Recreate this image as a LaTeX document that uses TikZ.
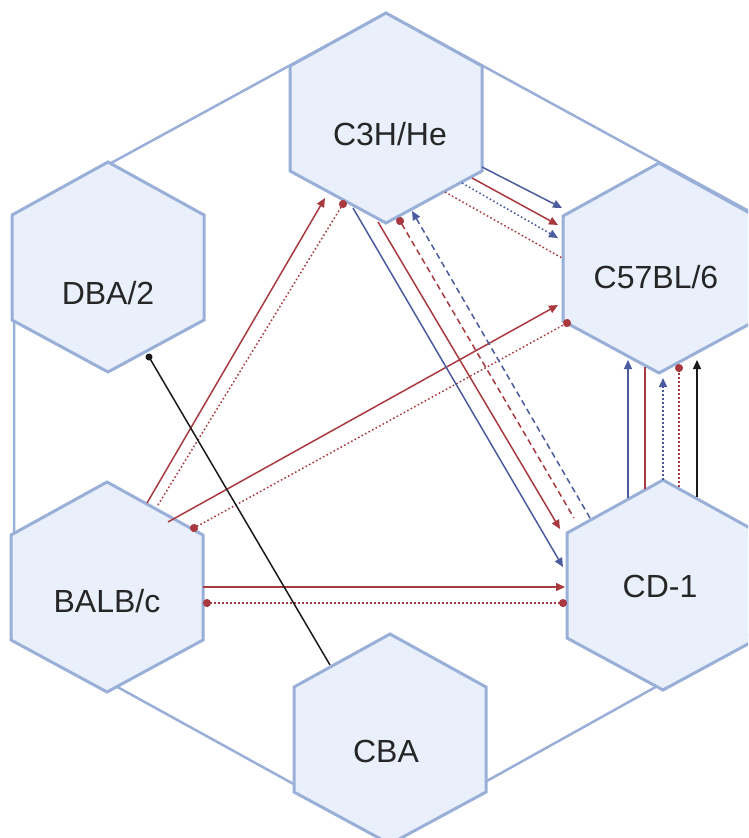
\documentclass[tikz,border=0pt]{standalone}
\usepackage{fontspec}
\setmainfont{Liberation Sans}
\usetikzlibrary{arrows.meta,calc}

\definecolor{hexfill}{HTML}{E9F0FB}
\definecolor{hexline}{HTML}{9AAFD8}
\definecolor{linkred}{HTML}{A83A3F}
\definecolor{linkblue}{HTML}{4A5C9E}
\definecolor{linkblack}{HTML}{1A1A1A}
\definecolor{labelgrey}{HTML}{262626}

% pointy-top hexagon around a named centre
\newcommand\hexagonat[1]{%
  \path[hexa] ($(#1)+(0,-105)$) -- ++(96,53) -- ++(0,105) -- ++(-96,52)
    -- ++(-96,-52) -- ++(0,-105) -- cycle;}

\begin{document}
\begin{tikzpicture}[x=1pt,y=-1pt,
  hexa/.style={draw=hexline, fill=hexfill, line width=3pt, line join=miter},
  frame/.style={draw=hexline, line width=2.5pt, line join=miter},
  strain/.style={font=\fontsize{32}{38}\selectfont, text=labelgrey, anchor=base, inner sep=0pt},
  link/.style={line width=1.5pt},
  rd/.style={link, draw=linkred},
  bl/.style={link, draw=linkblue},
  bk/.style={link, draw=linkblack},
  dotline/.style={dash pattern=on 1.6pt off 2.4pt},
  dashline/.style={dash pattern=on 6pt off 4pt},
  tip/.style={-{Triangle[length=9pt,width=8pt]}},
  dotend/.style={-{Circle[length=8pt]}, shorten >=-4pt},
  dotstart/.style={{Circle[length=8pt]}-, shorten <=-4pt},
  dotboth/.style={{Circle[length=8pt]}-{Circle[length=8pt]}, shorten <=-4pt, shorten >=-4pt},
]
\useasboundingbox (0,0) rectangle (748,838);
\clip (0,0) rectangle (748,838);

% hexagon centres
\coordinate (c3h)  at (386,118);
\coordinate (dba)  at (108,267);
\coordinate (c57)  at (659,268);
\coordinate (balb) at (107,587);
\coordinate (cd1)  at (663,585);
\coordinate (cba)  at (390,739);

% outer frame
\draw[frame] (386,13) -- (758,216) -- (758,630) -- (388,836) -- (14,630) -- (14,216) -- cycle;

% strain hexagons
\hexagonat{c3h}
\hexagonat{dba}
\hexagonat{c57}
\hexagonat{balb}
\hexagonat{cd1}
\hexagonat{cba}

% labels
\node[strain] (c3h-label)  at (390,145) {C3H/He};
\node[strain] (dba-label)  at (108,304) {DBA/2};
\node[strain] (c57-label)  at (656,288) {C57BL/6};
\node[strain] (balb-label) at (107,612) {BALB/c};
\node[strain] (cd1-label)  at (660,597) {CD-1};
\node[strain] (cba-label)  at (386,762) {CBA};

% BALB/c -> C3H/He
\draw[rd,tip] ($(balb)+(40,-84)$) -- ($(c3h)+(-61,80)$);
\draw[rd,dotline,dotend] ($(balb)+(51,-82)$) -- ($(c3h)+(-43,86)$);

% BALB/c -> C57BL/6
\draw[rd,tip] ($(balb)+(61,-65)$) -- ($(c57)+(-101,37)$);
\draw[rd,dotline,dotboth] ($(balb)+(87,-59)$) -- ($(c57)+(-92,55)$);

% BALB/c -> CD-1
\draw[rd,tip] ($(balb)+(96,0)$) -- ($(cd1)+(-98,2)$);
\draw[rd,dotline,dotboth] ($(balb)+(100,16)$) -- ($(cd1)+(-100,18)$);

% C3H/He -> C57BL/6
\draw[bl,tip] ($(c3h)+(96,49)$) -- ($(c57)+(-97,-60)$);
\draw[rd,tip] ($(c3h)+(86,60)$) -- ($(c57)+(-101,-43)$);
\draw[bl,dotline,tip] ($(c3h)+(76,65)$) -- ($(c57)+(-101,-30)$);
\draw[rd,dotline] ($(c3h)+(59,74)$) -- ($(c57)+(-97,-10)$);

% C3H/He <-> CD-1
\draw[bl,tip] ($(c3h)+(-33,90)$) -- ($(cd1)+(-100,-18)$);
\draw[rd,tip] ($(c3h)+(-8,104)$) -- ($(cd1)+(-103,-56)$);
\draw[rd,dashline,dotstart] ($(c3h)+(14,103)$) -- ($(cd1)+(-89,-67)$);
\draw[bl,dashline,tip] ($(cd1)+(-73,-67)$) -- ($(c3h)+(26,93)$);

% CD-1 -> C57BL/6
\draw[bl,tip] ($(cd1)+(-35,-87)$) -- ($(c57)+(-31,92)$);
\draw[rd] ($(cd1)+(-18,-96)$) -- ($(c57)+(-14,99)$);
\draw[bl,dotline,tip] ($(cd1)+(0,-105)$) -- ($(c57)+(4,110)$);
\draw[rd,dotline,dotend] ($(cd1)+(16,-98)$) -- ($(c57)+(20,100)$);
\draw[bk,tip] ($(cd1)+(34,-88)$) -- ($(c57)+(38,92)$);

% CBA -> DBA/2
\draw[bk,-{Circle[length=7pt]},shorten >=-3.5pt] ($(cba)+(-60,-74)$) -- ($(dba)+(41,90)$);
\end{tikzpicture}
\end{document}
